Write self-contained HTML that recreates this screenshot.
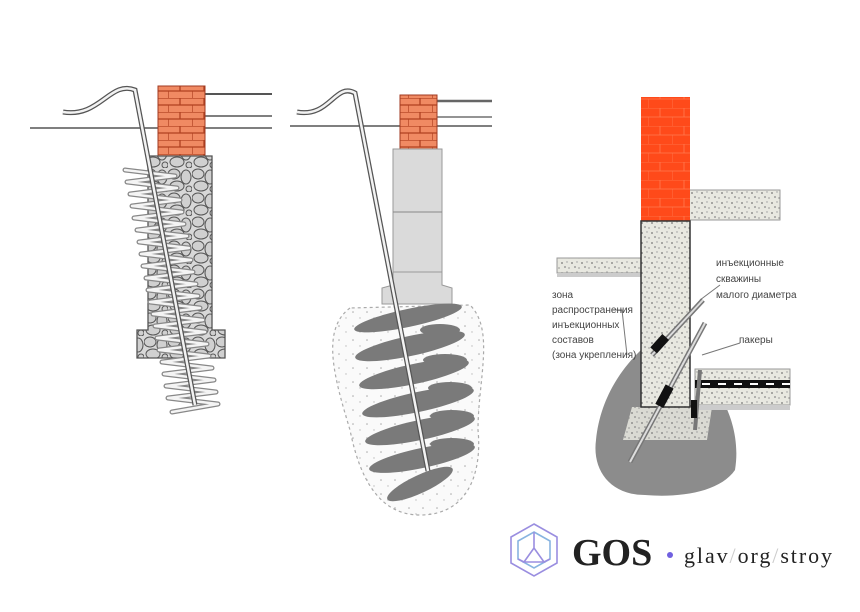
<!DOCTYPE html>
<html><head><meta charset="utf-8"><style>
html,body{margin:0;padding:0;background:#fff;width:860px;height:612px;overflow:hidden}
svg{display:block}
</style></head><body>
<svg width="860" height="612" viewBox="0 0 860 612" xmlns="http://www.w3.org/2000/svg" font-family="Liberation Sans, sans-serif">
<defs>
<pattern id="stone" width="24" height="24" patternUnits="userSpaceOnUse">
<rect width="24" height="24" fill="#d8d8d8"/>
<ellipse cx="6" cy="6" rx="6" ry="5" fill="#d0d0d0" stroke="#555" stroke-width="1"/>
<ellipse cx="18" cy="9" rx="5" ry="7" fill="#d0d0d0" stroke="#555" stroke-width="1"/>
<ellipse cx="9" cy="18" rx="7" ry="5" fill="#d0d0d0" stroke="#555" stroke-width="1"/>
<ellipse cx="21" cy="21" rx="3" ry="3" fill="#d0d0d0" stroke="#555" stroke-width="1"/>
</pattern>
<pattern id="conc" width="10" height="10" patternUnits="userSpaceOnUse">
<rect width="10" height="10" fill="#e8e8e0"/>
<circle cx="2" cy="3" r="0.9" fill="#777"/><circle cx="7" cy="2" r="0.7" fill="#999"/>
<circle cx="5" cy="7" r="0.9" fill="#888"/><circle cx="9" cy="8" r="0.6" fill="#666"/>
</pattern>
<pattern id="dots" width="14" height="14" patternUnits="userSpaceOnUse">
<rect width="14" height="14" fill="#fafafa"/>
<circle cx="3" cy="4" r="0.8" fill="#aaa"/><circle cx="10" cy="10" r="0.7" fill="#bbb"/>
</pattern>
<pattern id="brick" width="24" height="14" patternUnits="userSpaceOnUse">
<rect width="24" height="14" fill="#f08a63"/>
<path d="M0 0H24M0 7H24M12 0V7M0 7V14" stroke="#b04020" stroke-width="1.3"/>
</pattern>
<pattern id="brick2" width="24" height="18" patternUnits="userSpaceOnUse">
<rect width="24" height="18" fill="#ff4a1a"/>
<path d="M0 0H24M0 9H24M12 0V9M0 9V18" stroke="#ff7a50" stroke-width="0.8"/>
</pattern>
</defs>

<!-- LEFT -->
<g>
<line x1="30" y1="128" x2="272" y2="128" stroke="#555" stroke-width="1.5"/>
<line x1="205" y1="94" x2="272" y2="94" stroke="#555" stroke-width="2"/>
<line x1="205" y1="116" x2="272" y2="116" stroke="#555" stroke-width="1.5"/>
<rect x="158" y="86" width="47" height="70" fill="url(#brick)" stroke="#a03a20"/>
<path d="M148 156H212V330H225V358H137V330H148Z" fill="url(#stone)" stroke="#555" stroke-width="1.3"/>
<g fill="none" stroke-linejoin="round" stroke-linecap="round">
<path d="M125 170L175 176L127 182L177 188L130 194L180 200L132 206L182 212L134 218L184 224L137 230L187 236L139 242L189 248L141 254L191 260L143 266L193 272L146 278L196 284L148 290L198 296L150 302L200 308L153 314L203 320L155 326L205 332L157 338L207 344L159 350L209 356L162 362L212 368L164 374L214 380L166 386L216 392L168 398L218 404L172 412" stroke="#888" stroke-width="5"/>
<path d="M125 170L175 176L127 182L177 188L130 194L180 200L132 206L182 212L134 218L184 224L137 230L187 236L139 242L189 248L141 254L191 260L143 266L193 272L146 278L196 284L148 290L198 296L150 302L200 308L153 314L203 320L155 326L205 332L157 338L207 344L159 350L209 356L162 362L212 368L164 374L214 380L166 386L216 392L168 398L218 404L172 412" stroke="#f4f4f4" stroke-width="2.5"/>
</g>
<path d="M63 112 C100 118 110 80 135 90 L195 405" fill="none" stroke="#555" stroke-width="5"/>
<path d="M63 112 C100 118 110 80 135 90 L195 405" fill="none" stroke="#f2f2f2" stroke-width="2.5"/>
</g>

<!-- MIDDLE -->
<g>
<line x1="290" y1="126" x2="492" y2="126" stroke="#555" stroke-width="1.5"/>
<line x1="437" y1="101" x2="492" y2="101" stroke="#666" stroke-width="2.5"/>
<line x1="437" y1="117" x2="492" y2="117" stroke="#555" stroke-width="1.2"/>
<path d="M350 308 C320 330 335 380 350 430 C360 480 380 515 420 515 C470 515 482 470 478 430 C478 380 495 330 470 305 Z" fill="url(#dots)" stroke="#aaa" stroke-width="1.2" stroke-dasharray="3 3"/>
<rect x="400" y="95" width="37" height="54" fill="url(#brick)" stroke="#a03a20"/>
<rect x="393" y="149" width="49" height="123" fill="#dadada" stroke="#999"/>
<line x1="393" y1="212" x2="442" y2="212" stroke="#888"/>
<path d="M393 272H442V285L452 288V304H382V288L393 285Z" fill="#dadada" stroke="#999"/>
<g fill="#7a7a7a">
<ellipse cx="408" cy="318" rx="55" ry="9" transform="rotate(-12 408 318)"/>
<ellipse cx="410" cy="346" rx="56" ry="10" transform="rotate(-12 410 346)"/>
<ellipse cx="414" cy="374" rx="56" ry="10" transform="rotate(-12 414 374)"/>
<ellipse cx="418" cy="402" rx="57" ry="10" transform="rotate(-12 418 402)"/>
<ellipse cx="420" cy="430" rx="56" ry="10" transform="rotate(-12 420 430)"/>
<ellipse cx="422" cy="458" rx="54" ry="10" transform="rotate(-12 422 458)"/>
<ellipse cx="420" cy="484" rx="36" ry="9" transform="rotate(-25 420 484)"/>
<ellipse cx="440" cy="330" rx="20" ry="6"/>
<ellipse cx="445" cy="360" rx="22" ry="6"/>
<ellipse cx="450" cy="388" rx="22" ry="6"/>
<ellipse cx="452" cy="416" rx="22" ry="6"/>
<ellipse cx="452" cy="444" rx="22" ry="6"/>
</g>
<path d="M297 112 C330 118 335 82 355 93 L428 471" fill="none" stroke="#555" stroke-width="5"/>
<path d="M297 112 C330 118 335 82 355 93 L428 471" fill="none" stroke="#f2f2f2" stroke-width="2.5"/>
</g>

<!-- RIGHT -->
<g>
<path d="M641 350 C620 370 600 400 596 440 C592 470 610 495 645 495 C680 498 720 492 735 470 C740 440 730 415 725 405 L641 405 Z" fill="#8c8c8c"/>
<rect x="557" y="258" width="84" height="15" fill="url(#conc)" stroke="#999"/>
<rect x="557" y="273" width="84" height="4" fill="#ccc"/>
<rect x="684" y="190" width="96" height="30" fill="url(#conc)" stroke="#999"/>
<rect x="641" y="97" width="49" height="124" fill="url(#brick2)"/>
<path d="M632 407H712L707 440H623Z" fill="url(#conc)" opacity="0.85"/>
<rect x="641" y="221" width="49" height="186" fill="url(#conc)" stroke="#333" stroke-width="1.5"/>
<rect x="695" y="369" width="95" height="36" fill="url(#conc)" stroke="#999"/>
<rect x="695" y="380" width="95" height="8" fill="#111"/>
<path d="M702 384H790" stroke="#fff" stroke-width="2" stroke-dasharray="8 8"/>
<rect x="695" y="405" width="95" height="5" fill="#ccc"/>
<path d="M652 355L703 300" stroke="#777" stroke-width="5"/><path d="M652 355L703 300" stroke="#ddd" stroke-width="2"/>
<path d="M630 462L705 323" stroke="#777" stroke-width="5"/><path d="M630 462L705 323" stroke="#ddd" stroke-width="2"/>
<path d="M695 430L700 370" stroke="#777" stroke-width="4"/>
<rect x="655" y="335" width="9" height="18" fill="#111" transform="rotate(42 660 344)"/>
<rect x="660" y="385" width="9" height="22" fill="#111" transform="rotate(28 664 396)"/>
<rect x="691" y="400" width="6" height="18" fill="#111"/>
<path d="M627 355 L622 310 L612 310" fill="none" stroke="#777"/>
<path d="M700 300 L720 285" fill="none" stroke="#777"/>
<path d="M702 355 L740 343" fill="none" stroke="#777"/>
<g font-size="10" fill="#444">
<text x="716" y="266">инъекционные</text>
<text x="716" y="282">скважины</text>
<text x="716" y="298">малого диаметра</text>
<text x="739" y="343">пакеры</text>
<text x="552" y="298">зона</text>
<text x="552" y="313">распространения</text>
<text x="552" y="328">инъекционных</text>
<text x="552" y="343">составов</text>
<text x="552" y="358">(зона укрепления)</text>
</g>
</g>

<!-- LOGO -->
<g transform="translate(534,550)" fill="none" stroke-width="1.6">
<polygon points="0,-26 23,-13 23,13 0,26 -23,13 -23,-13" stroke="#9a8ee0"/>
<polygon points="0,-18 16,-9 16,9 0,18 -16,9 -16,-9" stroke="#88b4e0"/>
<path d="M0 -18V-2M0 -2L-10 12H10Z M-16 9L-10 12M16 9L10 12" stroke="#9a8ee0"/>
</g>
<text x="572" y="565" style="font-family:'Liberation Serif',serif;font-weight:bold;font-size:38px" fill="#222">GOS</text>
<circle cx="670" cy="555" r="3" fill="#7060e0"/>
<text x="684" y="563" textLength="148" style="font-family:'Liberation Serif',serif;font-size:22px" fill="#222">glav<tspan fill="#ccc">/</tspan>org<tspan fill="#ccc">/</tspan>stroy</text>
</svg>
</body></html>
